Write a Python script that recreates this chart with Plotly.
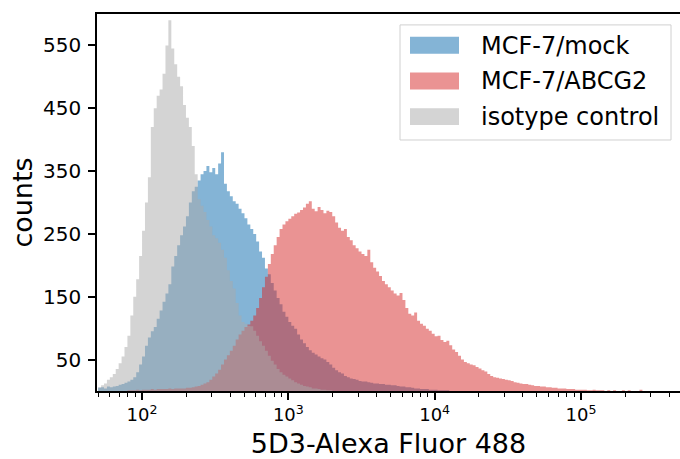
import plotly.graph_objects as go

# ---------------- data (histogram counts) ----------------
BIN_START_LOG = 1.70   # log10 of first bin edge
BIN_STEP_LOG = 0.02    # bin width in decades

series_names = ["MCF-7/mock", "MCF-7/ABCG2", "isotype control"]

mock_start_bin = 0
mock_counts = [
    5, 6, 4, 7, 6, 7, 8, 10, 11, 13,
    15, 18, 22, 30, 42, 55, 72, 85, 95, 102,
    115, 128, 142, 155, 170, 198, 215, 232, 248, 262,
    278, 300, 318, 325, 335, 345, 350, 358, 348, 355,
    345, 362, 380, 330, 318, 310, 302, 298, 290, 283,
    275, 265, 258, 250, 238, 222, 212, 195, 186, 172,
    160, 148, 138, 126, 118, 110, 104, 99, 90, 82,
    76, 70, 65, 61, 58, 55, 52, 50, 46, 42,
    37, 33, 30, 28, 24, 22, 20, 19, 18, 16,
    15, 15, 14, 13, 12, 12, 11, 11, 10, 10,
    9, 9, 8, 7, 7, 6, 6, 5, 4, 4,
    3, 3, 3, 2, 2, 2, 1, 1, 1, 1,
]

abcg2_start_bin = 10
abcg2_counts = [
    1, 1, 1, 2, 1, 2, 2, 2, 3, 2, 3, 3, 3, 3, 4, 3, 4, 4,
    4, 4, 5, 5, 6, 7, 8, 10, 12, 14, 18, 23, 28, 34, 42, 50, 57, 64, 72, 82, 90, 96,
    102, 106, 112, 120, 132, 148, 165, 182, 202, 218, 232, 245, 258, 265, 270, 274,
    278, 282, 284, 288, 292, 298, 302,
    290, 286, 293, 288, 283, 287, 285, 278, 268, 260, 255, 258, 245, 240, 232, 227,
    222, 218, 215, 225, 205, 196, 190, 183, 175, 170, 165,
    160, 155, 152, 156, 145, 132, 123, 120, 125, 112, 107, 104, 99, 96, 91, 87, 88,
    81, 78, 80, 73,
    66, 62, 56, 50, 46, 44, 42, 41, 38, 36, 33, 31, 27, 24, 22, 21, 20, 19, 18, 17,
    16, 14, 13, 12, 11, 11, 10, 9, 8, 8,
    7, 7, 6, 6, 5, 5, 4, 4, 4, 3, 3, 3, 2, 2, 2, 2, 1, 1, 2, 1,
    1, 1, 0, 1, 0, 1, 0, 0, 1, 0, 1, 0, 0, 0, 2,
]

isotype_start_bin = 0
isotype_counts = [
    6, 9, 12, 18, 22, 27, 35, 44, 55, 70,
    88, 120, 150, 178, 215, 255, 300, 340, 420, 450,
    470, 480, 505, 550, 590, 545, 520, 500, 485, 455,
    435, 420, 390, 345, 305, 295, 285, 272, 262, 248,
    243, 236, 225, 212, 192, 175, 163, 140, 120, 110,
    107, 104, 103, 96, 88, 79, 72, 64, 56, 48,
    42, 35, 30, 26, 23, 20, 17, 14, 12, 10,
    8, 7, 6, 4, 4, 3, 2, 2, 1, 1,
]

y_tick_values = [50, 150, 250, 350, 450, 550]
x_tick_values = [100, 1000, 10000, 100000]
x_tick_labels = ["10<sup>2</sup>", "10<sup>3</sup>", "10<sup>4</sup>", "10<sup>5</sup>"]

x_label = "5D3-Alexa Fluor 488"
y_label = "counts"

# ---------------- styling ----------------
colors = ["rgba(31,119,180,0.55)", "rgba(214,39,40,0.5)", "rgba(169,169,169,0.5)"]
FONT = "DejaVu Sans"
W, H = 680, 459
L, R, T, B = 97, 0, 14, 65

series = [
    (series_names[0], mock_start_bin, mock_counts, colors[0]),
    (series_names[1], abcg2_start_bin, abcg2_counts, colors[1]),
    (series_names[2], isotype_start_bin, isotype_counts, colors[2]),
]

fig = go.Figure()
for name, start, counts, col in series:
    edges = [10 ** (BIN_START_LOG + BIN_STEP_LOG * (start + k)) for k in range(len(counts) + 1)]
    ys = list(counts) + [counts[-1]]
    fig.add_trace(go.Scatter(
        x=edges, y=ys, mode="lines", line=dict(width=0, shape="hv", color=col),
        fill="tozeroy", fillcolor=col, name=name, showlegend=False, hoverinfo="skip",
    ))

minor_vals = [m * 10 ** d for d in range(1, 6) for m in range(2, 10)]

fig.update_layout(
    width=W, height=H, autosize=False,
    margin=dict(l=L, r=R, t=T, b=B, pad=0),
    paper_bgcolor="white", plot_bgcolor="white",
    font=dict(family=FONT, color="black", size=19),
    showlegend=False,
)
fig.update_xaxes(
    type="log", range=[1.692, 5.677],
    showgrid=False, zeroline=False,
    showline=True, linecolor="black", linewidth=1.5, mirror=True,
    ticks="outside", ticklen=7, tickwidth=1.5, tickcolor="black",
    tickvals=x_tick_values, ticktext=x_tick_labels,
    tickfont=dict(family=FONT, size=18, color="black"),
    minor=dict(tickvals=minor_vals, ticks="outside", ticklen=4, tickwidth=1, tickcolor="black"),
    title=dict(text=x_label, font=dict(family=FONT, size=27, color="black"), standoff=15),
)
fig.update_yaxes(
    range=[0, 600],
    showgrid=False, zeroline=False,
    showline=True, linecolor="black", linewidth=1.5, mirror=False,
    ticks="outside", ticklen=7, tickwidth=1.5, tickcolor="black",
    tickvals=y_tick_values,
    tickfont=dict(family=FONT, size=20, color="black"),
    ticklabelstandoff=3,
    title=dict(text=y_label, font=dict(family=FONT, size=27, color="black"), standoff=3),
)

# ---------------- legend drawn as shapes + text ----------------
pw, ph = W - L - R, H - T - B
def px2x(px):
    return (px - L) / pw
def px2y(py):
    return (H - B - py) / ph

fig.add_shape(type="rect", xref="paper", yref="paper",
              x0=px2x(400), x1=px2x(671), y0=px2y(141), y1=px2y(25),
              line=dict(color="#d0d0d0", width=1), fillcolor="rgba(255,255,255,0.85)", layer="above")
row_top = 37
row_pitch = 36
for i, (name, col) in enumerate(zip(series_names, colors)):
    top = row_top + i * row_pitch
    fig.add_shape(type="rect", xref="paper", yref="paper",
                  x0=px2x(410), x1=px2x(459), y0=px2y(top + 17), y1=px2y(top),
                  line=dict(width=0), fillcolor=col, layer="above")
    fig.add_annotation(xref="paper", yref="paper", x=px2x(479), y=px2y(top + 9),
                       xanchor="left", yanchor="middle", showarrow=False,
                       text=name, font=dict(family=FONT, size=24, color="black"))

fig.write_html("out.html", config={"displayModeBar": False},
               post_script="document.body.style.margin='0';document.body.style.overflow='hidden';")
